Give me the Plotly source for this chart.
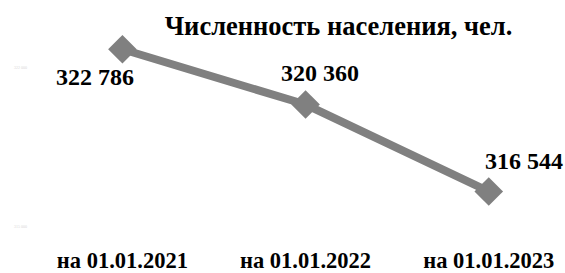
import plotly.graph_objects as go

categories = ["на 01.01.2021", "на 01.01.2022", "на 01.01.2023"]
values = [322786, 320360, 316544]
value_labels = ["322 786", "320 360", "316 544"]
y_ticks = [315000, 322000]
y_tick_labels = ["315 000", "322 000"]
title_text = "Численность населения, чел."

FONT = "Liberation Serif"
x_idx = list(range(len(categories)))

fig = go.Figure()
fig.add_trace(go.Scatter(
    x=x_idx, y=values, mode="lines+markers",
    line=dict(color="#808080", width=8),
    marker=dict(symbol="diamond", size=22, color="#808080"),
    hoverinfo="skip", showlegend=False,
))

shifts = [(-27, -28), (14, 32), (35, 30)]
for i, (v, lab) in enumerate(zip(values, value_labels)):
    fig.add_annotation(x=i, y=v, xref="x", yref="y", text="<b>%s</b>" % lab,
                       showarrow=False, xshift=shifts[i][0], yshift=shifts[i][1],
                       font=dict(family=FONT, size=24, color="#000"))

fig.update_layout(
    width=565, height=273,
    margin=dict(l=40, r=3, t=33, b=35),
    paper_bgcolor="white", plot_bgcolor="white",
    title=dict(text="<b>%s</b>" % title_text, x=338.5/565, xanchor="center",
               y=1-26/273, yanchor="middle", yref="container",
               font=dict(family=FONT, size=26.5, color="#000")),
    xaxis=dict(range=[-0.45, 2.4], tickmode="array", tickvals=x_idx,
               ticktext=["<b>%s</b>" % c for c in categories],
               showgrid=False, zeroline=False, showline=False,
               ticklabelstandoff=6, automargin=False,
               tickfont=dict(family=FONT, size=22.5, color="#000")),
    yaxis=dict(range=[314500, 323500], tickmode="array", tickvals=y_ticks,
               ticktext=y_tick_labels, showgrid=False, zeroline=False,
               showline=False, ticklabelstandoff=12, automargin=False,
               tickfont=dict(family=FONT, size=4, color="#d8d8d8")),
)

fig.write_html("out.html", config={"displayModeBar": False, "staticPlot": True},
               post_script="document.body.style.margin='0';document.body.style.overflow='hidden';")
